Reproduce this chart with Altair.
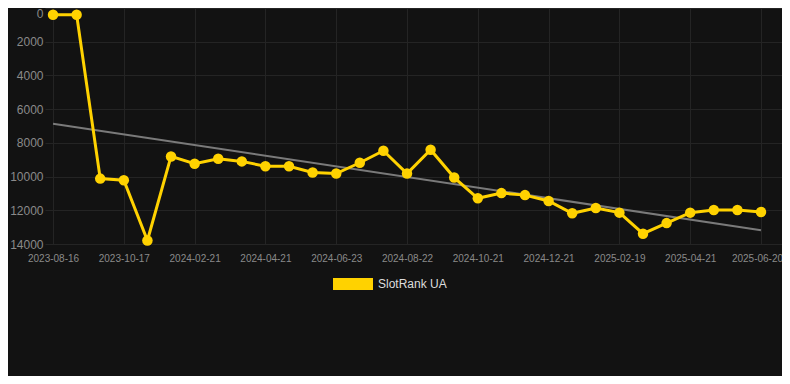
import altair as alt
import pandas as pd

dates = [
    "2023-08-16", "2023-09-05", "2023-09-26", "2023-10-17", "2023-11-17",
    "2024-01-20", "2024-02-21", "2024-03-11", "2024-04-01", "2024-04-21",
    "2024-05-12", "2024-06-02", "2024-06-23", "2024-07-13", "2024-08-02",
    "2024-08-22", "2024-09-11", "2024-10-01", "2024-10-21", "2024-11-10",
    "2024-11-30", "2024-12-21", "2025-01-10", "2025-01-30", "2025-02-19",
    "2025-03-11", "2025-03-31", "2025-04-21", "2025-05-11", "2025-05-31",
    "2025-06-20",
]
ranks = [
    400, 400, 10120, 10220, 13790, 8805, 9240, 8940, 9100, 9390,
    9390, 9760, 9820, 9180, 8470, 9820, 8410, 10060, 11290, 10980,
    11100, 11450, 12180, 11860, 12140, 13390, 12760, 12140, 11980, 11980,
    12100,
]
series_name = "SlotRank UA"
y_ticks = [0, 2000, 4000, 6000, 8000, 10000, 12000, 14000]
x_tick_idx = list(range(0, len(dates), 3))
last_idx = len(dates) - 1

df = pd.DataFrame({"idx": list(range(len(dates))), "date": dates, "rank": ranks,
                   "series": [series_name] * len(dates)})

label_arr = "[" + ",".join("'%s'" % d for d in dates) + "]"

YELLOW = "#FFD200"
BG = "#121212"
GRID = "#242424"

x_enc = alt.X("idx:Q",
              scale=alt.Scale(domain=[-0.34, 30.89], nice=False, zero=False),
              axis=alt.Axis(values=x_tick_idx, labelExpr=label_arr + "[round(datum.value)]",
                            title=None, grid=True, gridColor=GRID, domain=False, ticks=False,
                            labelColor="#8a8a8a", labelFontSize=10, labelPadding=9,
                            labelOffset={"condition": {"test": "datum.value == %d" % last_idx,
                                                       "value": -4}, "value": 0},
                            labelOverlap=False, labelFont="Liberation Sans"))
y_enc = alt.Y("rank:Q",
              scale=alt.Scale(domain=[0, 14000], reverse=True, nice=False),
              axis=alt.Axis(values=y_ticks, title=None, grid=True, gridColor=GRID, format="d",
                            domain=False, ticks=False, labelColor="#8a8a8a", labelOverlap=False,
                            labelOffset={"condition": {"test": "datum.value == 0", "value": 5},
                                         "value": 0},
                            labelFontSize=12, labelPadding=2, labelFont="Liberation Sans"))

color_enc = alt.Color("series:N", scale=alt.Scale(range=[YELLOW]),
                      legend=alt.Legend(title=None, orient="none", direction="horizontal",
                                        legendX=288, legendY=256,
                                        symbolType="M-1,-0.3H1V0.3H-1Z", symbolSize=1600,
                                        symbolFillColor=YELLOW, symbolStrokeColor=YELLOW,
                                        symbolStrokeWidth=0, symbolOpacity=1,
                                        labelColor="#dddddd", labelFontSize=12,
                                        labelFont="Liberation Sans", labelOffset=5))

base = alt.Chart(df)

trend = base.transform_regression("idx", "rank").mark_line(
    color="#7a7a7a", strokeWidth=2
).encode(x=x_enc, y=y_enc)

line = base.mark_line(strokeWidth=3, color=YELLOW).encode(x=x_enc, y=y_enc, color=color_enc)
pts = base.mark_circle(size=110, opacity=1, color=YELLOW).encode(x=x_enc, y=y_enc,
                                                                   color=color_enc)

chart = alt.layer(trend, line, pts).properties(
    width=737, height=236, background=BG,
    padding={"left": 37, "top": 0, "right": 0, "bottom": 132},
    autosize=alt.AutoSizeParams(type="none"),
).configure_view(stroke=None)

chart.save("out.html", embed_options={"renderer": "svg", "actions": False})
